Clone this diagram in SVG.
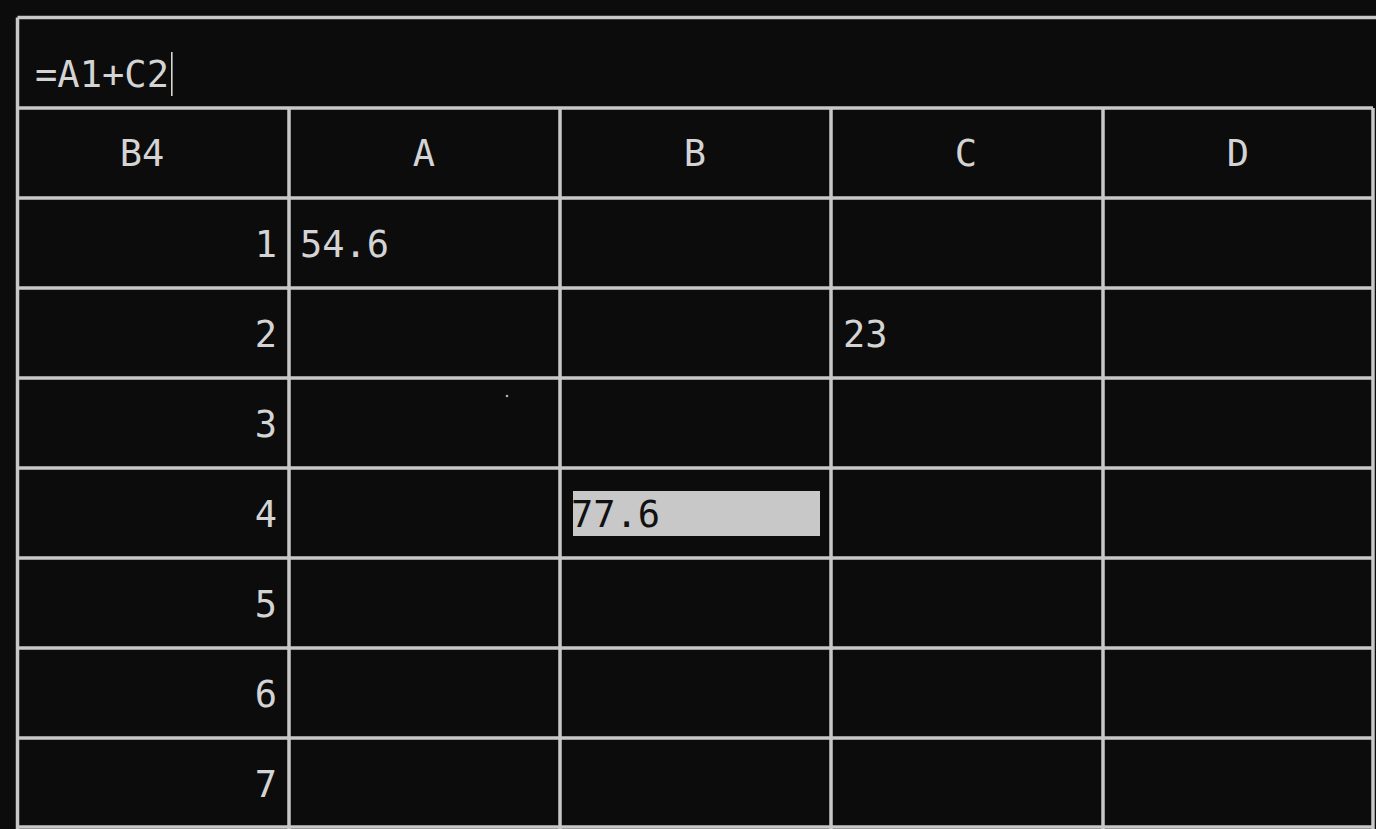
<svg xmlns="http://www.w3.org/2000/svg" width="1376" height="829" viewBox="0 0 1376 829">
<style>
.bg{fill:#0c0c0c}
.ln{stroke:#c8c8c8;stroke-width:3.5;fill:none}
.t{font-family:"DejaVu Sans Mono","Liberation Mono",monospace;font-size:37px;fill:#d4d4d4}
.c{text-anchor:middle}
.r{text-anchor:end}
.sel{fill:#c8c8c8}
.st{font-family:"DejaVu Sans Mono","Liberation Mono",monospace;font-size:37px;fill:#111111}
</style>
<rect class="bg" x="0" y="0" width="1376" height="829"/>
<g id="grid">
<path class="ln" d="M17.5,17.5 H1380 M17.5,17.5 V829"/>
<path class="ln" d="M17.5,108 H1373 M17.5,198 H1373 M17.5,288 H1373 M17.5,378 H1373 M17.5,468 H1373 M17.5,558 H1373 M17.5,648 H1373 M17.5,738 H1373 M17.5,827 H1373"/>
<path class="ln" d="M289,108 V829 M560,108 V829 M831,108 V829 M1103,108 V829 M1373,108 V829"/>
</g>
<g id="formula-bar">
<text class="t" x="35" y="87" textLength="134" lengthAdjust="spacingAndGlyphs">=A1+C2</text>
<rect x="171" y="52" width="1.6" height="44" fill="#d4d4d4"/>
</g>
<g id="header">
<text class="t c" x="142" y="166">B4</text>
<text class="t c" x="424" y="166">A</text>
<text class="t c" x="695" y="166">B</text>
<text class="t c" x="966" y="166">C</text>
<text class="t c" x="1238" y="166">D</text>
</g>
<g id="row-labels">
<text class="t r" x="277" y="257">1</text>
<text class="t r" x="277" y="347">2</text>
<text class="t r" x="277" y="437">3</text>
<text class="t r" x="277" y="527">4</text>
<text class="t r" x="277" y="617">5</text>
<text class="t r" x="277" y="707">6</text>
<text class="t r" x="277" y="797">7</text>
</g>
<g id="cell-A1"><text class="t" x="300" y="257">54.6</text></g>
<g id="cell-C2"><text class="t" x="843" y="347">23</text></g>
<g id="cell-B4">
<rect class="sel" x="573" y="491" width="247" height="45"/>
<text class="st" x="571" y="527">77.6</text>
</g>
<circle cx="507" cy="396" r="1.3" fill="#b0b0b0"/>
</svg>
